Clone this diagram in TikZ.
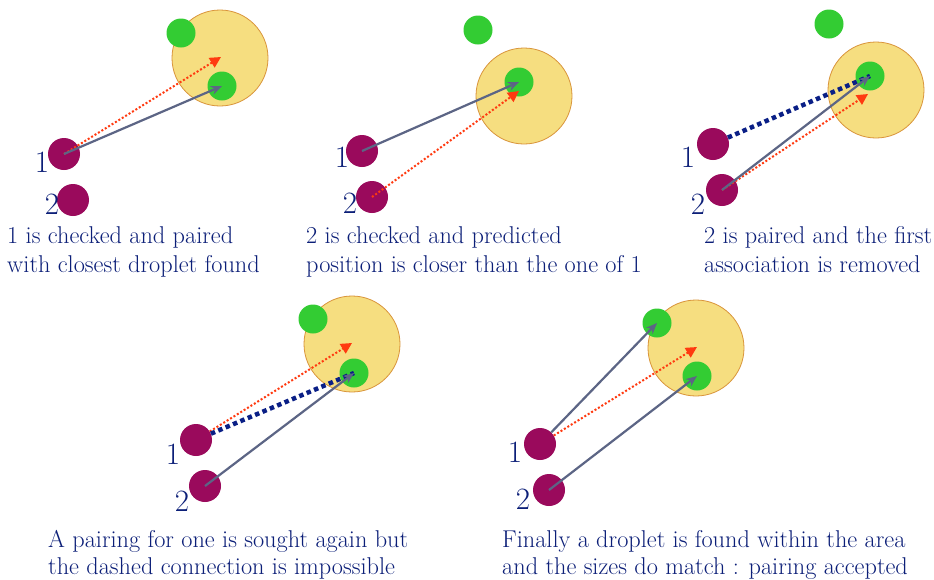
\documentclass[tikz,border=0pt]{standalone}
\usepackage{fontspec}
\usetikzlibrary{arrows.meta}
\definecolor{purp}{HTML}{9A0A5C}
\definecolor{grn}{HTML}{33CC33}
\definecolor{areay}{HTML}{F6DE80}
\definecolor{areao}{HTML}{D9943A}
\definecolor{slate}{HTML}{5C6585}
\definecolor{predred}{HTML}{FF3A10}
\definecolor{navy}{HTML}{0A1F86}
\definecolor{txt}{HTML}{0C1F78}
\tikzset{
  pdrop/.style={circle, fill=purp, minimum size=32pt, inner sep=0pt},
  gdrop/.style={circle, fill=grn, minimum size=29pt, inner sep=0pt},
  area/.style={circle, fill=areay, draw=areao, line width=0.8pt, minimum size=96pt, inner sep=0pt},
  pair/.style={draw=slate, line width=2.2pt, -{Stealth[length=11pt,width=9pt]}},
  pred/.style={draw=predred, line width=2pt, dash pattern=on 2pt off 2pt, -{Triangle[length=11pt,width=11pt]}},
  bad/.style={draw=navy, line width=4.5pt, dash pattern=on 4.5pt off 3.5pt},
  lab/.style={text=txt, font=\fontsize{31}{31}\selectfont, inner sep=0pt},
  captxt/.style={text=txt, font=\fontsize{24.3}{29}\selectfont, anchor=base west, inner sep=0pt}
}
\begin{document}
\begin{tikzpicture}[x=1pt,y=-1pt]
\useasboundingbox (0,0) rectangle (934,579);
\fill[white] (0,0) rectangle (934,579);
% ---------- panel 1
\node[area] (a1) at (220,58) {};
\node[gdrop] (g1t) at (181,33) {};
\node[gdrop] (g1b) at (222,86) {};
\node[pdrop] (p11) at (64,154) {};
\node[pdrop] (p12) at (73,200) {};
\node[lab] (l11) at (42,162) {1};
\node[lab] (l12) at (52,204) {2};
\coordinate (q1) at (221,57);
\draw[pred] (p11.center) -- (q1);
\draw[pair] (p11.center) -- (g1b.center);
\node[captxt] (c1a) at (7,243) {1 is checked and paired};
\node[captxt] (c1b) at (7,272) {with closest droplet found};
% ---------- panel 2
\node[area] (a2) at (524,96) {};
\node[gdrop] (g2t) at (478,30) {};
\node[gdrop] (g2b) at (519,82) {};
\node[pdrop] (p21) at (362,151) {};
\node[pdrop] (p22) at (372,197) {};
\node[lab] (l21) at (342,157) {1};
\node[lab] (l22) at (350,203) {2};
\coordinate (q2) at (519,91);
\draw[pair] (p21.center) -- (g2b.center);
\draw[pred] (p22.center) -- (q2);
\node[captxt] (c2a) at (306,243) {2 is checked and predicted};
\node[captxt] (c2b) at (306,272) {position is closer than the one of 1};
% ---------- panel 3
\node[area] (a3) at (876,90) {};
\node[gdrop] (g3t) at (829,24) {};
\node[gdrop] (g3b) at (870,76) {};
\node[pdrop] (p31) at (713,144) {};
\node[pdrop] (p32) at (722,190) {};
\node[lab] (l31) at (688,157) {1};
\node[lab] (l32) at (698,204) {2};
\coordinate (q3) at (868,94);
\draw[bad] (p31) -- (g3b.center);
\draw[pred] (p32.center) -- (q3);
\draw[pair] (p32.center) -- (g3b.center);
\node[captxt] (c3a) at (704,243) {2 is paired and the first};
\node[captxt] (c3b) at (704,272) {association is removed};
% ---------- panel 4
\node[area] (a4) at (352,344) {};
\node[gdrop] (g4t) at (313,319) {};
\node[gdrop] (g4b) at (354,373) {};
\node[pdrop] (p41) at (196,440) {};
\node[pdrop] (p42) at (205,486) {};
\node[lab] (l41) at (173,454) {1};
\node[lab] (l42) at (182,501) {2};
\coordinate (q4) at (352,343);
\draw[pred] (p41) -- (q4);
\draw[bad] (p41) -- (g4b.center);
\draw[pair] (p42.center) -- (g4b.center);
\node[captxt] (c4a) at (48,547) {A pairing for one is sought again but};
\node[captxt] (c4b) at (48,574) {the dashed connection is impossible};
% ---------- panel 5
\node[area] (a5) at (696,348) {};
\node[gdrop] (g5t) at (657,323) {};
\node[gdrop] (g5b) at (697,376) {};
\node[pdrop] (p51) at (540,444) {};
\node[pdrop] (p52) at (549,490) {};
\node[lab] (l51) at (515,452) {1};
\node[lab] (l52) at (523,499) {2};
\coordinate (q5) at (697,347);
\draw[pred] (p51) -- (q5);
\draw[pair] (p51) -- (g5t.center);
\draw[pair] (p52.center) -- (g5b.center);
\node[captxt] (c5a) at (502,547) {Finally a droplet is found within the area};
\node[captxt] (c5b) at (502,574) {and the sizes do match : pairing accepted};
\end{tikzpicture}
\end{document}
